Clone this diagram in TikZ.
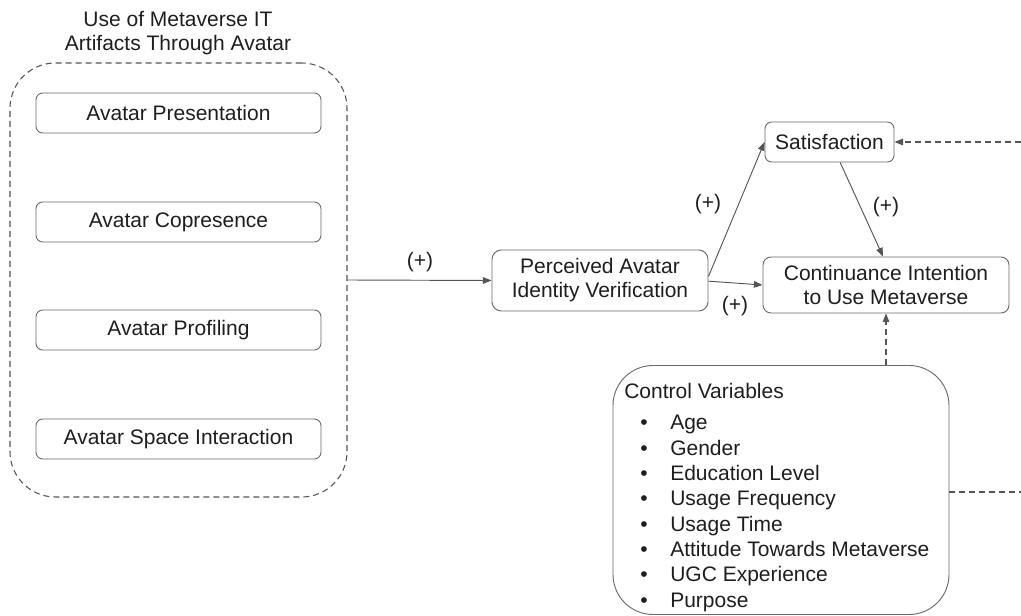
\documentclass[tikz,border=0pt]{standalone}
\usepackage{fontspec}
\setmainfont{Liberation Sans}
\usetikzlibrary{arrows.meta}
\definecolor{edgegray}{HTML}{555555}
\definecolor{boxgray}{HTML}{6A6A6A}
\definecolor{inkcol}{HTML}{1E1E1E}
\tikzset{
  every node/.style={font=\fontsize{15.75pt}{18pt}\selectfont, text=inkcol},
  factor/.style={draw=boxgray, line width=0.7pt, rounded corners=5pt, align=center, inner sep=0pt},
  group/.style={draw=edgegray, line width=0.8pt, dash pattern=on 4.5pt off 3pt, rounded corners=34pt, inner sep=0pt},
  ctlbox/.style={draw=boxgray, line width=0.7pt, rounded corners=30pt, inner sep=0pt},
  link/.style={draw=edgegray, line width=0.7pt, -{Triangle[length=6.5pt,width=5pt]}},
  dlink/.style={draw=edgegray, line width=0.8pt, dash pattern=on 4.5pt off 3pt},
  sign/.style={inner sep=0pt}
}
\newcommand{\cvitem}[1]{\hspace*{12pt}\makebox[22.5pt][l]{\textbullet}#1}
\begin{document}
\begin{tikzpicture}[x=0.75pt,y=-0.75pt]
\useasboundingbox (0,0) rectangle (1021,616);

% group of avatar artifacts
\node[align=center, inner sep=0pt] (title) at (178,33) {Use of Metaverse IT\\Artifacts Through Avatar};
\node[group, minimum width=252.75pt, minimum height=325.5pt] (use) at (178.5,280) {};
\node[factor, minimum width=213.75pt, minimum height=30pt] (pres) at (178.5,113) {Avatar Presentation};
\node[factor, minimum width=213.75pt, minimum height=30pt] (copr) at (178.5,222) {Avatar Copresence};
\node[factor, minimum width=213.75pt, minimum height=30pt] (prof) at (178.5,330) {Avatar Profiling};
\node[factor, minimum width=213.75pt, minimum height=30pt] (spac) at (178.5,439) {Avatar Space Interaction};

% constructs
\node[factor, rounded corners=7pt, minimum width=162pt, minimum height=45.75pt] (piv) at (600,280.5) {Perceived Avatar\\Identity Verification};
\node[factor, minimum width=96.75pt, minimum height=30pt] (sat) at (829.5,142) {Satisfaction};
\node[factor, rounded corners=6pt, minimum width=184.5pt, minimum height=42pt] (cont) at (886,285) {Continuance Intention\\to Use Metaverse};

% control variables
\node[ctlbox, minimum width=252pt, minimum height=186.75pt] (ctl) at (781,490) {};
\node[anchor=north west, align=left, inner sep=0pt, font=\fontsize{15.75pt}{19pt}\selectfont] (ctltext) at (624,383)
 {Control Variables\\[4.5pt]
  \cvitem{Age}\\
  \cvitem{Gender}\\
  \cvitem{Education Level}\\
  \cvitem{Usage Frequency}\\
  \cvitem{Usage Time}\\
  \cvitem{Attitude Towards Metaverse}\\
  \cvitem{UGC Experience}\\
  \cvitem{Purpose}};

% free ends of the control lines at the right margin
\coordinate (rtop) at (1021,142);
\coordinate (rbot) at (1021,492);

% paths
\draw[link] (use.east) -- (piv.west);
\node[sign] (s1) at (420,262) {(+)};
\draw[link] ([yshift=3pt]piv.east) -- (sat.west);
\node[sign] (s2) at (708,204) {(+)};
\draw[link] ([yshift=-0.5pt]piv.east) -- (cont.west);
\node[sign] (s3) at (735,306) {(+)};
\draw[link] ([xshift=8pt]sat.south) -- ([xshift=-2.25pt]cont.north);
\node[sign] (s4) at (886,207) {(+)};

% control effects
\draw[dlink, -{Triangle[length=6.5pt,width=5pt]}] (ctl.north -| cont.south) -- (cont.south);
\draw[dlink] (ctl.east |- rbot) -- (rbot);
\draw[dlink, -{Triangle[length=6.5pt,width=5pt]}] (rtop) -- (sat.east);
\end{tikzpicture}
\end{document}
